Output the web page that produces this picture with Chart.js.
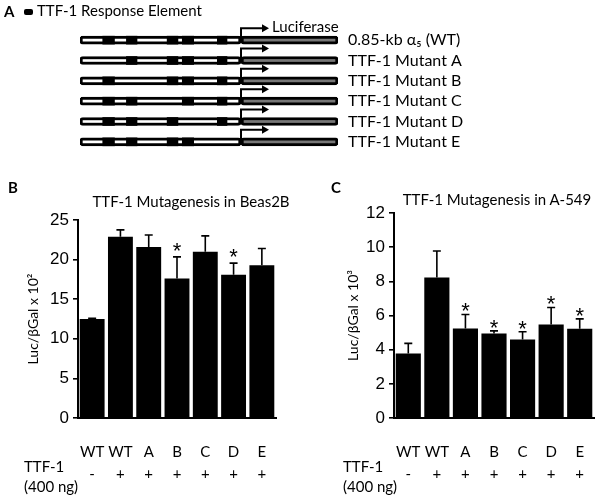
<!DOCTYPE html>
<html>
<head>
<meta charset="utf-8">
<script src="https://cdn.jsdelivr.net/npm/chart.js@4.4.1/dist/chart.umd.min.js"></script>
<style>
  body { margin: 0; background: #fff; }
  #wrap { position: relative; width: 600px; height: 498px; overflow: hidden; font-family: Lato, "Open Sans", sans-serif; color: #000; }
  canvas { position: absolute; }
  .txt { position: absolute; white-space: nowrap; line-height: 1; }
  .panel { font-weight: bold; font-size: 15px; }
</style>
</head>
<body>
<div id="wrap">
  <canvas id="chartA" style="left:0px;top:0px" width="600" height="160"></canvas>
  <canvas id="chartB" style="left:0px;top:160px" width="300" height="338"></canvas>
  <canvas id="chartC" style="left:300px;top:160px" width="300" height="338"></canvas>

  <div class="txt panel" style="left:4px;top:4px">A</div>
  <div class="txt" style="left:24px;top:9px;width:9px;height:6px;background:#000;border-radius:2px"></div>
  <div class="txt" style="left:37px;top:3px;font-size:15px">TTF-1 Response Element</div>

  <div class="txt panel" style="left:8px;top:180px">B</div>
  <div class="txt" style="left:191px;top:194px;font-size:15px;transform:translateX(-50%)">TTF-1 Mutagenesis in Beas2B</div>
  <div class="txt" style="left:24px;top:459px;font-size:15px">TTF-1</div>
  <div class="txt" style="left:24px;top:479px;font-size:15px">(400 ng)</div>

  <div class="txt panel" style="left:331px;top:180px">C</div>
  <div class="txt" style="left:497px;top:192px;font-size:15px;transform:translateX(-50%)">TTF-1 Mutagenesis in A-549</div>
  <div class="txt" style="left:343px;top:459px;font-size:15px">TTF-1</div>
  <div class="txt" style="left:343px;top:479px;font-size:15px">(400 ng)</div>
</div>
<script>
// Panel A: construct map (positions in bp relative to the transcription start)
const constructs = ['0.85-kb α₅ (WT)', 'TTF-1 Mutant A', 'TTF-1 Mutant B', 'TTF-1 Mutant C', 'TTF-1 Mutant D', 'TTF-1 Mutant E'];
const promoterStart = -850;
const luciferaseEnd = 512;
const elementStart = [-730, -605, -390, -310, -125];
const elementEnd = [-668, -549, -333, -250, -74];
const mutatedElement = [-1, 0, 1, 2, 3, 4]; // which TTF-1 site is knocked out in each row

// Panels B and C: reporter activity
const categories = ['WT', 'WT', 'A', 'B', 'C', 'D', 'E'];
const ttfSign = ['-', '+', '+', '+', '+', '+', '+'];
const beasMean = [12.5, 22.9, 21.6, 17.6, 21.0, 18.1, 19.3];
const beasErr = [0.1, 0.85, 1.5, 2.75, 2.0, 1.45, 2.1];
const beasSig = [false, false, false, true, false, true, false];
const a549Mean = [3.78, 8.23, 5.24, 4.95, 4.6, 5.48, 5.22];
const a549Err = [0.59, 1.55, 0.82, 0.15, 0.45, 0.99, 0.58];
const a549Sig = [false, false, true, true, true, true, true];

const LATO = 'Lato, "Open Sans", sans-serif';
const ARIAL = '"Liberation Sans", Arial, sans-serif';

// ---------- Panel A ----------
const frameData = constructs.map(() => [promoterStart, 0]);
const lucData = constructs.map(() => [0, luciferaseEnd]);
// first dataset is painted last, so the TTF-1 sites go first to sit on top of the frame
const elementSets = elementStart.map((s, k) => ({
  label: 'TTF-1 site ' + (k + 1),
  data: constructs.map((c, r) => mutatedElement[r] === k ? null : [s, elementEnd[k]]),
  backgroundColor: '#000',
  borderWidth: 0,
  barThickness: 8,
  grouped: false
}));

// promoter arrows and the "Luciferase" label
const promoterArrows = {
  id: 'promoterArrows',
  afterDatasetsDraw(chart) {
    const { ctx, scales: { x, y } } = chart;
    const x0 = x.getPixelForValue(0);
    ctx.save();
    ctx.strokeStyle = '#000';
    ctx.fillStyle = '#000';
    ctx.lineWidth = 2;
    constructs.forEach((c, i) => {
      const yc = y.getPixelForValue(i);
      const yt = yc - 12;
      const xe = x0 + 22;
      ctx.beginPath();
      ctx.moveTo(x0, yc);
      ctx.lineTo(x0, yt);
      ctx.lineTo(xe, yt);
      ctx.stroke();
      ctx.beginPath();
      ctx.moveTo(xe + 6, yt);
      ctx.lineTo(xe - 1, yt - 4);
      ctx.lineTo(xe - 1, yt + 4);
      ctx.closePath();
      ctx.fill();
      if (i === 0) {
        ctx.font = '15px ' + LATO;
        ctx.textBaseline = 'middle';
        ctx.fillText('Luciferase', xe + 9, yt - 1);
      }
    });
    ctx.restore();
  }
};

new Chart(document.getElementById('chartA'), {
  type: 'bar',
  data: {
    labels: constructs,
    datasets: [
      ...elementSets,
      { label: 'luciferase', data: lucData, backgroundColor: '#777', borderColor: '#000', borderWidth: 3, borderSkipped: false, borderRadius: 3, barThickness: 8, grouped: false },
      { label: 'promoter', data: frameData, backgroundColor: '#fff', borderColor: '#000', borderWidth: 3, borderSkipped: false, borderRadius: 3, barThickness: 8, grouped: false }
    ]
  },
  options: {
    indexAxis: 'y',
    responsive: false,
    animation: false,
    layout: { padding: { left: 80, top: 30, bottom: 8, right: 0 } },
    scales: {
      x: { type: 'linear', display: false, min: promoterStart, max: luciferaseEnd },
      y: {
        position: 'right',
        grid: { display: false, drawTicks: false },
        border: { display: false },
        ticks: { color: '#000', padding: 10, autoSkip: false, font: { family: LATO, size: 16 } },
        afterFit: (s) => { s.width = 262; s.paddingTop = 0; s.paddingBottom = 0; }
      }
    },
    plugins: { legend: { display: false }, tooltip: { enabled: false } }
  },
  plugins: [promoterArrows]
});

// ---------- Panels B and C ----------
const errorBars = {
  id: 'errorBars',
  afterDatasetsDraw(chart, args, opts) {
    const { ctx, scales: { y } } = chart;
    const meta = chart.getDatasetMeta(0);
    const vals = chart.data.datasets[0].data;
    ctx.save();
    ctx.strokeStyle = '#000';
    ctx.fillStyle = '#000';
    ctx.lineWidth = 1.6;
    meta.data.forEach((bar, i) => {
      const yBar = y.getPixelForValue(vals[i]);
      const yTop = y.getPixelForValue(vals[i] + opts.err[i]);
      ctx.beginPath();
      ctx.moveTo(bar.x, yBar);
      ctx.lineTo(bar.x, yTop);
      ctx.moveTo(bar.x - 4, yTop);
      ctx.lineTo(bar.x + 4, yTop);
      ctx.stroke();
      if (opts.sig[i]) {
        ctx.font = '22px ' + ARIAL;
        ctx.textAlign = 'center';
        ctx.textBaseline = 'alphabetic';
        ctx.fillText('*', bar.x, yTop + opts.starShift);
      }
    });
    ctx.restore();
  }
};

function barPanel(id, values, err, sig, max, step, yTitle, yWidth, titlePad, rightPad, topPad, starShift) {
  return new Chart(document.getElementById(id), {
    type: 'bar',
    data: {
      labels: categories.map((c, i) => [c, ttfSign[i]]),
      datasets: [{ data: values, backgroundColor: '#000', borderWidth: 0, categoryPercentage: 1, barPercentage: 0.88 }]
    },
    options: {
      responsive: false,
      animation: false,
      layout: { padding: { left: 0, right: rightPad, top: topPad, bottom: 0 } },
      scales: {
        x: {
          grid: { display: false },
          border: { display: true, color: '#000', width: 2 },
          ticks: { color: '#000', padding: 15, maxRotation: 0, autoSkip: false, font: { family: LATO, size: 15, lineHeight: 1.47 } },
          afterFit: (s) => { s.height = 80; }
        },
        y: {
          min: 0, max: max,
          ticks: { stepSize: step, color: '#000', padding: 4, font: { family: ARIAL, size: 17 } },
          grid: { drawOnChartArea: false, drawTicks: true, tickLength: 5, color: '#000', lineWidth: 1.6 },
          border: { display: true, color: '#000', width: 2 },
          title: { display: true, text: yTitle, color: '#000', padding: { top: titlePad, bottom: 0 }, font: { family: LATO, size: 14 } },
          afterFit: (s) => { s.width = yWidth; }
        }
      },
      plugins: {
        legend: { display: false },
        tooltip: { enabled: false },
        errorBars: { err: err, sig: sig, starShift: starShift }
      }
    },
    plugins: [errorBars]
  });
}

barPanel('chartB', beasMean, beasErr, beasSig, 25, 5, 'Luc/βGal x 10²', 78, 25, 24, 60, 1);
barPanel('chartC', a549Mean, a549Err, a549Sig, 12, 2, 'Luc/βGal x 10³', 94, 45, 6, 53, 4);
</script>
</body>
</html>
